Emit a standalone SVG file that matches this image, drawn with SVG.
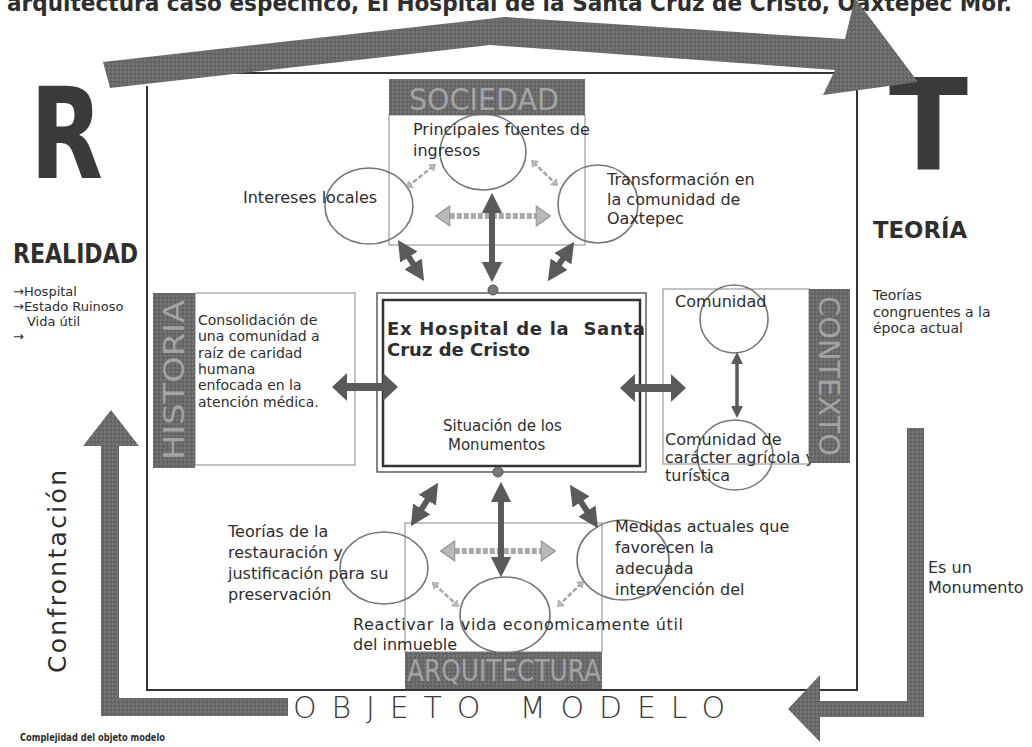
<svg xmlns="http://www.w3.org/2000/svg" width="1032" height="747" viewBox="0 0 1032 747">
<style>
.t{font-family:"DejaVu Sans",sans-serif;font-size:16px;fill:#2e2e2e}
.b{font-weight:bold}
.hl{font-family:"DejaVu Sans",sans-serif;fill:#a3a3a3}
.box{fill:none;stroke:#9a9a9a;stroke-width:1.2}
.el{fill:none;stroke:#777;stroke-width:1.6}
.tex{fill:url(#tex)}
.da{fill:none;stroke:#5a5a5a;marker-start:url(#dh);marker-end:url(#dh)}
.dw{fill:none;stroke:#5a5a5a;marker-start:url(#dwh);marker-end:url(#dwh)}
.la{fill:none;stroke:#a8a8a8;stroke-dasharray:5 2;marker-start:url(#lh);marker-end:url(#lh)}
.dot{fill:#777;stroke:#555;stroke-width:1}
</style>
<defs>
<pattern id="tex" width="4" height="4" patternUnits="userSpaceOnUse">
<rect width="4" height="4" fill="#6a6a6a"/>
<rect x="0" y="0" width="1" height="1" fill="#7e7e7e"/>
<rect x="2" y="1" width="1" height="1" fill="#575757"/>
<rect x="1" y="3" width="1" height="1" fill="#818181"/>
<rect x="3" y="2" width="1" height="1" fill="#5d5d5d"/>
</pattern>
<marker id="dh" viewBox="0 0 10 10" refX="5" refY="5" markerWidth="3.4" markerHeight="3.4" markerUnits="strokeWidth" orient="auto-start-reverse">
<path d="M0,0 L10,5 L0,10 z" fill="#5a5a5a"/>
</marker>
<marker id="dwh" viewBox="0 0 10 10" refX="5" refY="5" markerWidth="1.9" markerHeight="3.5" markerUnits="strokeWidth" orient="auto-start-reverse" preserveAspectRatio="none">
<path d="M0,0 L10,5 L0,10 z" fill="#5a5a5a"/>
</marker>
<marker id="lh" viewBox="0 0 10 10" refX="5" refY="5" markerWidth="2.6" markerHeight="3.7" markerUnits="strokeWidth" orient="auto-start-reverse" preserveAspectRatio="none">
<path d="M0.5,0.5 L9.5,5 L0.5,9.5 z" fill="#b9b9b9" stroke="#8e8e8e" stroke-width="0.6"/>
</marker>
</defs>
<rect width="1032" height="747" fill="#ffffff"/>

<g id="title">
<text class="t b" x="7" y="11" style="font-size:23px" textLength="1005" lengthAdjust="spacingAndGlyphs">arquitectura caso específico, El Hospital de la Santa Cruz de Cristo, Oaxtepec Mor.</text>
</g>

<g id="frame" fill="none" stroke="#333" stroke-width="2">
<line x1="113" y1="73" x2="862" y2="73"/>
<polyline points="147,86 147,690 857,690 857,86"/>
</g>

<g id="R"><text class="t b" x="30" y="178" style="font-size:127px;fill:#3a3a3a" textLength="73" lengthAdjust="spacingAndGlyphs">R</text></g>
<g id="T"><text class="t b" x="889" y="169" style="font-size:127px;fill:#3a3a3a" textLength="79" lengthAdjust="spacingAndGlyphs">T</text></g>

<g id="realidad">
<text class="t b" x="13" y="263" style="font-size:26px" textLength="125" lengthAdjust="spacingAndGlyphs">REALIDAD</text>
<text class="t" style="font-size:13px"><tspan x="13" y="296">→Hospital</tspan><tspan x="13" y="311">→Estado Ruinoso</tspan><tspan x="27" y="326">Vida útil</tspan><tspan x="13" y="341">→</tspan></text>
</g>

<g id="teoria">
<text class="t b" x="873" y="238" style="font-size:23px" textLength="94" lengthAdjust="spacingAndGlyphs">TEORÍA</text>
<text class="t" style="font-size:14px"><tspan x="873" y="300">Teorías</tspan><tspan x="873" y="316.5">congruentes a la</tspan><tspan x="873" y="333">época actual</tspan></text>
</g>

<g id="es-monumento">
<text class="t"><tspan x="928" y="573">Es un</tspan><tspan x="928" y="593">Monumento</tspan></text>
</g>

<g id="big-arrows">
<polygon class="tex" points="103,62 505,17 845,39 855,-2 918,82 823,95 835,70 490,45 110,88"/>
<polygon class="tex" points="111,410 139,446 119,446 119,698 288,698 288,716 101,716 101,446 83,446"/>
<polygon class="tex" points="907,428 924,428 924,717 820,717 820,742 788,709 820,675 820,701 907,701"/>
</g>

<g id="confrontacion">
<text class="t" style="font-size:25px" transform="translate(66,673) rotate(-90)" textLength="203">Confrontación</text>
</g>
<g id="complejidad">
<text class="t b" x="20" y="741" style="font-size:10.5px" textLength="145" lengthAdjust="spacingAndGlyphs">Complejidad del objeto modelo</text>
</g>
<g id="objeto-modelo">
<text class="t" x="293" y="718" style="font-size:30px;font-weight:200;fill:#3a3a3a" textLength="432">OBJETO MODELO</text>
</g>

<g id="sociedad">
<rect class="box" x="389" y="115" width="196" height="130"/>
<ellipse class="el" cx="483" cy="152" rx="43" ry="38"/>
<ellipse class="el" cx="369" cy="206" rx="44" ry="38"/>
<ellipse class="el" cx="598" cy="204" rx="40" ry="39"/>
<text class="t" x="243" y="203">Intereses locales</text>
<text class="t"><tspan x="413" y="135">Principales fuentes de</tspan><tspan x="413" y="156">ingresos</tspan></text>
<text class="t"><tspan x="607" y="185">Transformación en</tspan><tspan x="607" y="205">la comunidad de</tspan><tspan x="607" y="224">Oaxtepec</tspan></text>
<rect class="tex" x="389" y="79" width="196" height="36"/>
<text class="hl" x="409" y="110" style="font-size:31px" textLength="150" lengthAdjust="spacingAndGlyphs">SOCIEDAD</text>
</g>

<g id="historia">
<rect class="box" x="195" y="293" width="160" height="172"/>
<text class="t" style="font-size:14px"><tspan x="198" y="325">Consolidación de</tspan><tspan x="198" y="341.3">una comunidad a</tspan><tspan x="198" y="357.6">raíz de caridad</tspan><tspan x="198" y="373.9">humana</tspan><tspan x="198" y="390.2">enfocada en la</tspan><tspan x="198" y="406.5">atención médica.</tspan></text>
<rect class="tex" x="153" y="293" width="42" height="175"/>
<text class="hl" style="font-size:28px" text-anchor="middle" transform="translate(184,380) rotate(-90)" textLength="160" lengthAdjust="spacingAndGlyphs">HISTORIA</text>
</g>

<g id="centro">
<rect x="377" y="293" width="269" height="179" fill="none" stroke="#444" stroke-width="1.3"/>
<rect x="383" y="300" width="257" height="166" fill="none" stroke="#333" stroke-width="2.5"/>
<text class="t b" style="font-size:18px" xml:space="preserve"><tspan x="387" y="335" textLength="258">Ex Hospital de la  Santa</tspan><tspan x="387" y="356">Cruz de Cristo</tspan></text>
<text class="t" style="font-size:15px"><tspan x="443" y="431">Situación de los</tspan><tspan x="448" y="450">Monumentos</tspan></text>
</g>

<g id="contexto">
<rect class="box" x="663" y="289" width="146" height="175"/>
<ellipse class="el" cx="734" cy="319" rx="34" ry="34"/>
<ellipse class="el" cx="735" cy="455" rx="38" ry="35"/>
<text class="t" x="675" y="307">Comunidad</text>
<text class="t"><tspan x="665" y="445">Comunidad de</tspan><tspan x="665" y="463">carácter agrícola y</tspan><tspan x="665" y="481">turística</tspan></text>
<rect class="tex" x="809" y="289" width="41" height="174"/>
<text class="hl" style="font-size:28px" text-anchor="middle" transform="translate(819,376) rotate(90)" textLength="160" lengthAdjust="spacingAndGlyphs">CONTEXTO</text>
</g>

<g id="arquitectura">
<rect class="box" x="405" y="523" width="197" height="129"/>
<ellipse class="el" cx="384" cy="568" rx="44" ry="36"/>
<ellipse class="el" cx="505" cy="615" rx="45" ry="38"/>
<ellipse class="el" cx="623" cy="560" rx="46" ry="40"/>
<text class="t"><tspan x="228" y="537">Teorías de la</tspan><tspan x="228" y="558">restauración y</tspan><tspan x="228" y="579">justificación para su</tspan><tspan x="228" y="600">preservación</tspan></text>
<text class="t"><tspan x="615" y="532">Medidas actuales que</tspan><tspan x="615" y="553">favorecen la</tspan><tspan x="615" y="574">adecuada</tspan><tspan x="615" y="595">intervención del</tspan></text>
<text class="t"><tspan x="353" y="630" textLength="330">Reactivar la vida economicamente útil</tspan><tspan x="353" y="650">del inmueble</tspan></text>
<rect class="tex" x="405" y="652" width="197" height="37"/>
<text class="hl" x="407" y="681" style="font-size:31px" textLength="194" lengthAdjust="spacingAndGlyphs">ARQUITECTURA</text>
</g>

<g id="connectors">
<line class="la" x1="442.8" y1="216" x2="543.2" y2="216" stroke-width="6"/>
<line class="la" x1="433.4" y1="166.1" x2="408.6" y2="185.9" stroke-width="2.5"/>
<line class="la" x1="533.4" y1="162.3" x2="555.6" y2="183.7" stroke-width="2.5"/>
<line class="da" x1="492" y1="203" x2="492" y2="272" stroke-width="6"/>
<line class="da" x1="403.4" y1="248.5" x2="418.6" y2="272.5" stroke-width="6"/>
<line class="da" x1="568.5" y1="250.3" x2="553.5" y2="272.7" stroke-width="6"/>
<circle class="dot" cx="493" cy="290" r="5"/>
<line class="dw" x1="339.5" y1="387" x2="390.5" y2="387" stroke-width="8"/>
<line class="dw" x1="627.5" y1="388" x2="678.5" y2="388" stroke-width="8"/>
<line class="da" x1="737" y1="358" x2="737" y2="412" stroke-width="3.5"/>
<circle class="dot" cx="498" cy="472" r="5"/>
<line class="la" x1="447.8" y1="551" x2="548.2" y2="551" stroke-width="6"/>
<line class="la" x1="434.4" y1="584.2" x2="456.6" y2="604.8" stroke-width="2.5"/>
<line class="la" x1="581.6" y1="583.3" x2="559.4" y2="604.7" stroke-width="2.5"/>
<line class="da" x1="501" y1="492" x2="501" y2="567" stroke-width="6"/>
<line class="da" x1="432.7" y1="491.5" x2="416.3" y2="517.5" stroke-width="6"/>
<line class="da" x1="575.5" y1="493.4" x2="592.5" y2="519.6" stroke-width="6"/>
</g>
</svg>
